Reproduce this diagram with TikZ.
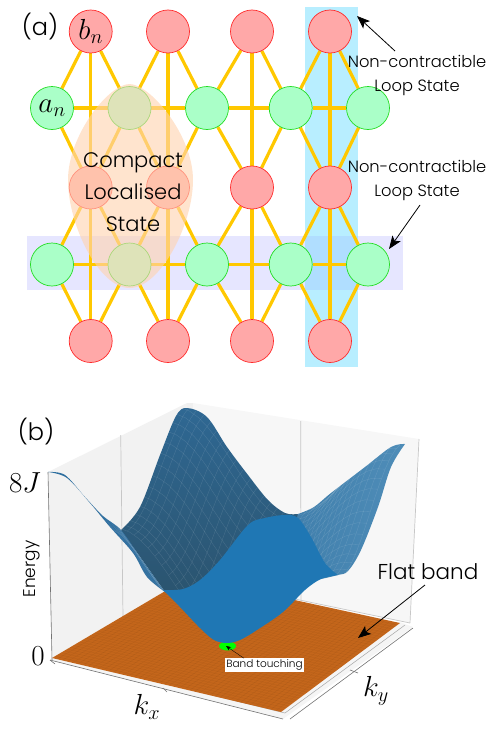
\RequirePackage{fix-cm}
\documentclass[tikz,border=0pt]{standalone}
\usepackage{fontspec}
\setsansfont{Poppins}[UprightFont=* Light]
\usetikzlibrary{arrows.meta,calc,backgrounds}
\pgfdeclarelayer{rects}\pgfdeclarelayer{edges}
\pgfsetlayers{rects,edges,main}
\definecolor{redfill}{HTML}{FFA8A8}\definecolor{reddraw}{HTML}{FF2A2A}
\definecolor{greenfill}{HTML}{AAFFC8}\definecolor{greendraw}{HTML}{22DD22}
\definecolor{bondcol}{HTML}{FFC800}\definecolor{loopblue}{HTML}{B8EEFF}
\definecolor{lavender}{HTML}{E6E6FF}\definecolor{overlapcol}{HTML}{B0DEFF}
\definecolor{eggcol}{HTML}{FFD3B0}\definecolor{floorcol}{HTML}{C4661B}
\definecolor{mainblue}{HTML}{1F77B4}
\definecolor{backtop}{HTML}{2F6893}\definecolor{backbot}{HTML}{2A5068}
\definecolor{leftA}{HTML}{2C6E9F}\definecolor{leftB}{HTML}{33709F}
\definecolor{rightA}{HTML}{3F7EAB}\definecolor{rightB}{HTML}{4F8DB8}
\tikzset{
 redsite/.style={circle,draw=reddraw,fill=redfill,line width=.7pt,minimum size=43pt,inner sep=0pt},
 greensite/.style={circle,draw=greendraw,fill=greenfill,line width=.7pt,minimum size=43pt,inner sep=0pt},
 bond/.style={draw=bondcol,line width=3.2pt},
 lbl/.style={inner sep=0pt,align=center,font=\sffamily\fontsize{16.3}{24}\selectfont,text=black},
 callout/.style={-{Stealth[length=13pt,width=10pt,inset=3pt]},line width=.8pt,black},
 wallline/.style={draw=black!22,line width=.7pt},
 axisline/.style={draw=black!55,line width=.6pt},
 mesh/.style={draw=white,opacity=.13,line width=.35pt},
 meshthin/.style={draw=white,opacity=.05,line width=.35pt},
 declare function={
  bx(\u,\v)=52*(1-\u)*(1-\v)+189*\u*(1-\v)+400*\u*\v+281*(1-\u)*\v;
  by(\u,\v)=658*(1-\u)*(1-\v)+577*\u*(1-\v)+623*\u*\v+712*(1-\u)*\v
    -178*(cos(180*\u)^2+cos(180*\v)^2)/2;
  fx(\u,\v)=52*(1-\u)*(1-\v)+189*\u*(1-\v)+400*\u*\v+281*(1-\u)*\v;
  fy(\u,\v)=658*(1-\u)*(1-\v)+577*\u*(1-\v)+623*\u*\v+712*(1-\u)*\v;
 }
}
\def\qtwo{plot[smooth,tension=.55] coordinates {(121,530)(140,507)(160,455)(176,416)(187,408)(207,417)(227,447)(248,475)(268,500)(285,513)(298,514)} -- (310,560) -- (230,630) -- (165,592) -- cycle}
\def\qone{plot[smooth,tension=.55] coordinates {(48,472)(65,475)(85,497)(103,516)(121,530)(140,557)(165,592)} -- plot[smooth,tension=.55] coordinates {(165,592)(147,577)(133,553)(110,527)(90,503)(67,478)(48,472)} -- cycle}
\def\qthree{plot[smooth,tension=.55] coordinates {(298,514)(314,507)(331,493)(365,467)(391,447)(405,444)} -- plot[smooth,tension=.55] coordinates {(405,444)(391,467)(378,507)(361,550)(348,571)(338,575)(321,579)} -- (285,560) -- cycle}
\def\qfour{plot[smooth,tension=.55] coordinates {(163,590)(183,589)(200,580)(220,560)(248,525)(265,518)(285,515)(298,518)(311,537)(325,563)(338,575)} -- plot[smooth,tension=.55] coordinates {(338,575)(321,579)(305,590)(283,612)(257,630)(240,640)(227,643)(214,640)(200,628)(180,607)(163,590)} -- cycle}
\begin{document}
\begin{tikzpicture}[x=1pt,y=-1pt]
\useasboundingbox (0,0) rectangle (498,736);
% ---------- panel (a)
\begin{pgfonlayer}{rects}
 \fill[loopblue] (304.7,7) rectangle (358.3,366.7);
 \fill[lavender] (27,236) rectangle (402.7,289.7);
 \fill[overlapcol] (304.7,236) rectangle (358.3,289.7);
\end{pgfonlayer}
\foreach \n/\x in {1/90.7,2/168,3/252,4/330}{
 \node[redsite] (ra\n) at (\x,31.5) {};
 \node[redsite] (rb\n) at (\x,187.5) {};
 \node[redsite] (rc\n) at (\x,341) {};
}
\foreach \n/\x in {1/52,2/129.5,3/207,4/290.7,5/368}{
 \node[greensite] (ga\n) at (\x,108) {};
 \node[greensite] (gb\n) at (\x,264.5) {};
}
\node[inner sep=0pt] (bnlabel) at (ra1) {\fontsize{29}{29}\selectfont $b_n$};
\node[inner sep=0pt] (anlabel) at (ga1) {\fontsize{29}{29}\selectfont $a_n$};
\begin{pgfonlayer}{edges}
 \foreach \n [evaluate=\n as \m using int(\n+1)] in {1,2,3,4}{
  \draw[bond] (ga\n) -- (ga\m);
  \draw[bond] (gb\n) -- (gb\m);
  \draw[bond] (ra\n) -- (rb\n);
  \draw[bond] (rb\n) -- (rc\n);
  \draw[bond] (ra\n) -- (ga\n);
  \draw[bond] (ra\n) -- (ga\m);
  \draw[bond] (rb\n) -- (ga\n);
  \draw[bond] (rb\n) -- (ga\m);
  \draw[bond] (rb\n) -- (gb\n);
  \draw[bond] (rb\n) -- (gb\m);
  \draw[bond] (rc\n) -- (gb\n);
  \draw[bond] (rc\n) -- (gb\m);
 }
\end{pgfonlayer}
\fill[eggcol,opacity=.62] (129.5,84) .. controls (150,84) and (193,135) .. (193,180)
  .. controls (193,225) and (160,288) .. (129.5,288)
  .. controls (99,288) and (68,225) .. (68,180)
  .. controls (68,135) and (109,84) .. (129.5,84) -- cycle;
\node[lbl,font=\sffamily\fontsize{21}{32}\selectfont] (cls) at (133,192) {Compact\\Localised\\State};
\node[font=\sffamily\fontsize{24}{24}\selectfont,inner sep=0pt] (pa) at (40,27) {(a)};
\node[lbl] (nc1) at (417,75) {Non-contractible\\Loop State};
\node[lbl] (nc2) at (417,180.5) {Non-contractible\\Loop State};
\coordinate (nc1tip) at (357,16);
\coordinate (nc1from) at (395,51);
\coordinate (nc2tip) at (389,249);
\coordinate (nc2from) at (420,205);
\draw[callout] (nc1from) -- (nc1tip);
\draw[callout] (nc2from) -- (nc2tip);
% ---------- panel (b): walls and floor
\fill[black!5] (48,472) -- (187,403) -- (189,577) -- (52,658) -- cycle;
\fill[black!3] (193,403) -- (419,439) -- (410,623) -- (189,577) -- cycle;
\fill[black!6] (187,403) -- (193,403) -- (193,578) -- (187,578) -- cycle;
\draw[wallline] (120.7,435) -- (123,617);
\draw[wallline] (300.7,421) -- (301,600);
\fill[black!4] (50,660) -- (283,719) -- (413,627) -- (400,622) -- (281,712) -- (52,658) -- cycle;
\draw[axisline] (48,472) -- (52,660);
\draw[axisline] (50,660) -- (283,719);
\draw[black!35,line width=.5pt] (56,657) -- (285,713);
\draw[axisline] (290,719) -- (413,628);
\draw[black!35,line width=.5pt] (285,713) -- (405,625);
\draw[wallline] (189,577) -- (410,623);
\draw[wallline] (410,623) -- (419,439);
\draw[axisline] (163,688) -- (167,692);
\draw[axisline] (350,670) -- (358,673);
\draw[axisline] (50,660) -- (55,664);
\fill[floorcol] (52,658) -- (189,577) -- (400,623) -- (281,712) -- cycle;
\foreach \i in {1,...,44}{
 \pgfmathsetmacro\t{\i/45}
 \draw[black,opacity=.06,line width=.4pt]
   ({fx(\t,0)},{fy(\t,0)}) -- ({fx(\t,1)},{fy(\t,1)});
 \draw[black,opacity=.06,line width=.4pt]
   ({fx(0,\t)},{fy(0,\t)}) -- ({fx(1,\t)},{fy(1,\t)});
}
% band touching point
\fill[green] (227.5,646) ellipse (8.5pt and 4.5pt);
% surface
\shade[top color=backtop,bottom color=backbot] \qtwo;
\begin{scope}
 \clip \qtwo;
 \foreach \i in {0,...,16}{
  \pgfmathsetmacro\t{.5+\i/32}
  \draw[mesh] plot[domain=0:.5,samples=13,variable=\w] ({bx(\t,\w)},{by(\t,\w)});
  \pgfmathsetmacro\s{\i/32}
  \draw[mesh] plot[domain=.5:1,samples=13,variable=\w] ({bx(\w,\s)},{by(\w,\s)});
 }
\end{scope}
\shade[left color=leftA,right color=leftB] \qone;
\begin{scope}
 \clip \qone;
 \foreach \i in {0,...,16}{
  \pgfmathsetmacro\t{\i/32}
  \draw[meshthin] plot[domain=0:.5,samples=13,variable=\w] ({bx(\t,\w)},{by(\t,\w)});
  \draw[meshthin] plot[domain=0:.5,samples=13,variable=\w] ({bx(\w,\t)},{by(\w,\t)});
 }
\end{scope}
\shade[left color=rightA,right color=rightB] \qthree;
\begin{scope}
 \clip \qthree;
 \foreach \i in {0,...,16}{
  \pgfmathsetmacro\t{.5+\i/32}
  \draw[mesh] plot[domain=.5:1,samples=13,variable=\w] ({bx(\t,\w)},{by(\t,\w)});
  \draw[mesh] plot[domain=.5:1,samples=13,variable=\w] ({bx(\w,\t)},{by(\w,\t)});
 }
\end{scope}
\fill[mainblue] \qfour;
% labels
\node[font=\sffamily\fontsize{24}{24}\selectfont,inner sep=0pt] (pb) at (36,432) {(b)};
\node[inner sep=0pt] (eight) at (25,483) {\fontsize{29}{29}\selectfont $8J$};
\node[inner sep=0pt] (zero) at (38,656) {\fontsize{29}{29}\selectfont $0$};
\node[rotate=90,inner sep=0pt,font=\sffamily\fontsize{17}{17}\selectfont] (en) at (32,569) {Energy};
\node[inner sep=0pt] (kx) at (147,707) {\fontsize{29}{29}\selectfont $k_x$};
\node[inner sep=0pt] (ky) at (376,691) {\fontsize{29}{29}\selectfont $k_y$};
\node[lbl,font=\sffamily\fontsize{21.5}{22}\selectfont] (flat) at (428,572) {Flat band};
\coordinate (flattip) at (358,638);
\draw[callout] (425,585) -- (flattip);
\node[fill=white,inner sep=1.2pt,font=\sffamily\fontsize{10.5}{10.5}\selectfont] (bt) at (264.5,665) {Band touching};
\coordinate (bttip) at (226,646);
\draw[-{Stealth[length=5pt,width=4pt]},line width=.35pt,black] (bt.north west) ++(19,0) -- (bttip);
\end{tikzpicture}
\end{document}
